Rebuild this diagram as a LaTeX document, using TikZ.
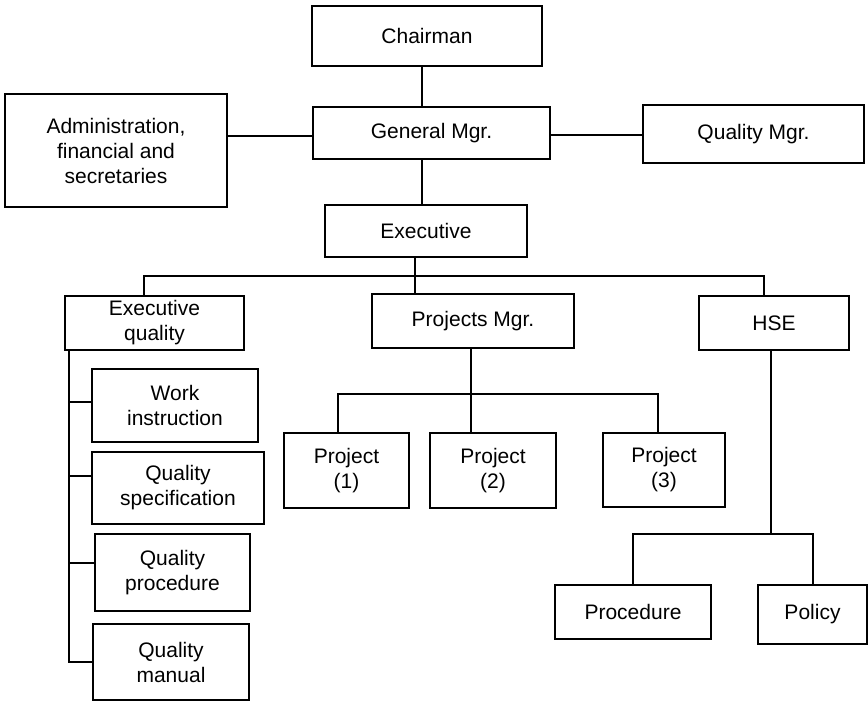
\documentclass[tikz,border=0pt]{standalone}
\usepackage{fontspec}
\setmainfont{Liberation Sans}
\usepackage{tikz}
\tikzset{
every picture/.style={line width=1pt},
orgbox/.style={rectangle, draw=black, line width=1pt, align=center, inner sep=0pt, font=\fontsize{10.5}{12.5}\selectfont},
sized/.style 2 args={minimum width=#1, minimum height=#2}
}

\begin{document}
\begin{tikzpicture}[x=0.5pt, y=-0.5pt]
\useasboundingbox (0,0) rectangle (868,701);
%Nodes
\node [orgbox, sized={115pt}{30pt}] (Chair) at (427,36) {Chairman};
\node [orgbox, sized={118.5pt}{26pt}] (GM) at (431.5,133) {General Mgr.};
\node [orgbox, sized={111pt}{56.5pt}] (Admin) at (116,150.5) {Administration,\\financial and\\secretaries};
\node [orgbox, sized={110.5pt}{29pt}] (QM) at (753.5,134) {Quality Mgr.};
\node [orgbox, sized={101pt}{26pt}] (Exec) at (426,231) {Executive};
\node [orgbox, sized={89.5pt}{27pt}] (EQ) at (154.5,323) {Executive\\quality};
\node [orgbox, sized={101pt}{27pt}] (PM) at (473,321) {Projects Mgr.};
\node [orgbox, sized={75pt}{27pt}] (HSE) at (774,323) {HSE};
\node [orgbox, sized={83pt}{36.5pt}] (WI) at (175,405.5) {Work\\instruction};
\node [orgbox, sized={86pt}{36pt}] (QSpec) at (178,488) {Quality\\specification};
\node [orgbox, sized={77.5pt}{38.5pt}] (QProc) at (172.5,572.5) {Quality\\procedure};
\node [orgbox, sized={78pt}{38pt}] (QMan) at (171,662) {Quality\\manual};
\node [orgbox, sized={62.5pt}{37.5pt}] (P1) at (346.5,470.5) {Project\\(1)};
\node [orgbox, sized={63pt}{37.5pt}] (P2) at (493,470.5) {Project\\(2)};
\node [orgbox, sized={61pt}{37pt}] (P3) at (664,470) {Project\\(3)};
\node [orgbox, sized={78pt}{27pt}] (Proc) at (633,612) {Procedure};
\node [orgbox, sized={54.5pt}{29.5pt}] (Pol) at (812.5,614.5) {Policy};

%Junctions
\coordinate (spine) at (422,0);
\coordinate (eqDrop) at (144,276);
\coordinate (hseDrop) at (764,276);
\coordinate (trunk) at (415,276);
\coordinate (eqSpine) at (69,0);
\coordinate (projBus) at (471,394);
\coordinate (p1Drop) at (338,394);
\coordinate (p3Drop) at (658,394);
\coordinate (hseBus) at (771,534);

%Lines
\draw (Chair.south -| spine) -- (GM.north -| spine);
\draw (GM.south -| spine) -- (Exec.north -| spine);
\draw ([yshift=-1.5pt]Admin.east |- GM.west) -- ([yshift=-1.5pt]GM.west);
\draw ([yshift=-1pt]GM.east) -- ([yshift=-1pt]QM.west |- GM.east);
\draw (Exec.south -| trunk) -- (PM.north -| trunk);
\draw (EQ.north -| eqDrop) -- (eqDrop) -- (hseDrop) -- (HSE.north -| hseDrop);
\draw (EQ.south -| eqSpine) -- (QMan.west -| eqSpine) -- (QMan.west);
\draw ([yshift=2pt]WI.west -| eqSpine) -- ([yshift=2pt]WI.west);
\draw ([yshift=6pt]QSpec.west -| eqSpine) -- ([yshift=6pt]QSpec.west);
\draw ([yshift=5pt]QProc.west -| eqSpine) -- ([yshift=5pt]QProc.west);
\draw (PM.south -| projBus) -- (P2.north -| projBus);
\draw (P1.north -| p1Drop) -- (p1Drop) -- (p3Drop) -- (P3.north -| p3Drop);
\draw (HSE.south -| hseBus) -- (hseBus);
\draw (Proc.north) -- (Proc.north |- hseBus) -- (Pol.north |- hseBus) -- (Pol.north);

\end{tikzpicture}
\end{document}
